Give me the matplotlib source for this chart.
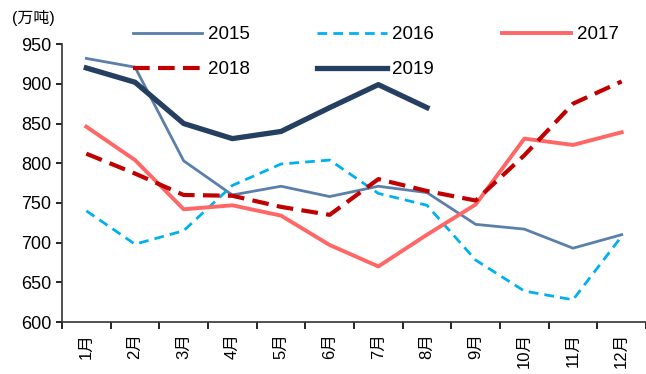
import matplotlib
matplotlib.use("Agg")
import matplotlib.pyplot as plt
import numpy as np

plt.rcParams['font.family'] = ['Liberation Sans', 'Noto Sans CJK SC', 'DejaVu Sans']

months = ["1月", "2月", "3月", "4月", "5月", "6月", "7月", "8月", "9月", "10月", "11月", "12月"]
y2015 = [932, 921, 803, 760, 771, 758, 771, 763, 723, 717, 693, 710]
y2016 = [740, 698, 715, 772, 799, 804, 762, 747, 678, 639, 628, 708]
y2017 = [846, 804, 742, 747, 734, 697, 670, 710, 748, 831, 823, 839]
y2018 = [812, 787, 760, 759, 745, 735, 780, 765, 753, 810, 875, 903]
y2019 = [920, 902, 850, 831, 840, 870, 899, 870]

fig = plt.figure(figsize=(6.46, 3.74), dpi=100)
ax = fig.add_axes([0.096, 0.139, 0.904, 0.743])

x = np.arange(len(months)) + 0.5
l15, = ax.plot(x, y2015, color="#5b7fab", lw=2, label="2015")
l16, = ax.plot(x, y2016, color="#00b0f0", lw=2, ls=(0, (3.5, 2.2)), label="2016")
l17, = ax.plot(x, y2017, color="#ff6666", lw=2.8, label="2017")
l18, = ax.plot(x, y2018, color="#c00000", lw=3, ls=(0, (4, 2)), label="2018")
l19, = ax.plot(x[:len(y2019)], y2019, color="#243f60", lw=3.8, label="2019")

ax.set_xlim(0, 12)
ax.set_ylim(600, 950)
ax.set_yticks(range(600, 951, 50))
ax.tick_params(axis="y", labelsize=13, direction="out", length=4, width=1.2)

# boundary ticks between months, labels centred on each month
ax.set_xticks(np.arange(0, 13), minor=True)
ax.set_xticks(x)
ax.set_xticklabels(months, rotation=90, fontsize=12)
ax.tick_params(axis="x", which="major", length=0, pad=8)
ax.tick_params(axis="x", which="minor", length=5, width=1.2, direction="out")

for s in ["top", "right"]:
    ax.spines[s].set_visible(False)
for s in ["left", "bottom"]:
    ax.spines[s].set_linewidth(1.2)
    ax.spines[s].set_color("#333333")

fig.text(0.018, 0.952, "(万吨)", fontsize=11.5, va="center")

# column-first fill: 2015/2018, 2016/2019, 2017
leg = fig.legend(handles=[l15, l18, l16, l19, l17], ncol=3, loc="upper left",
                 bbox_to_anchor=(0.206, 0.93), bbox_transform=fig.transFigure,
                 frameon=False, fontsize=13.5, borderpad=0, borderaxespad=0,
                 handlelength=3.7, columnspacing=3.6, labelspacing=0.95,
                 handletextpad=0.3)

fig.savefig("out.png", dpi=100)
